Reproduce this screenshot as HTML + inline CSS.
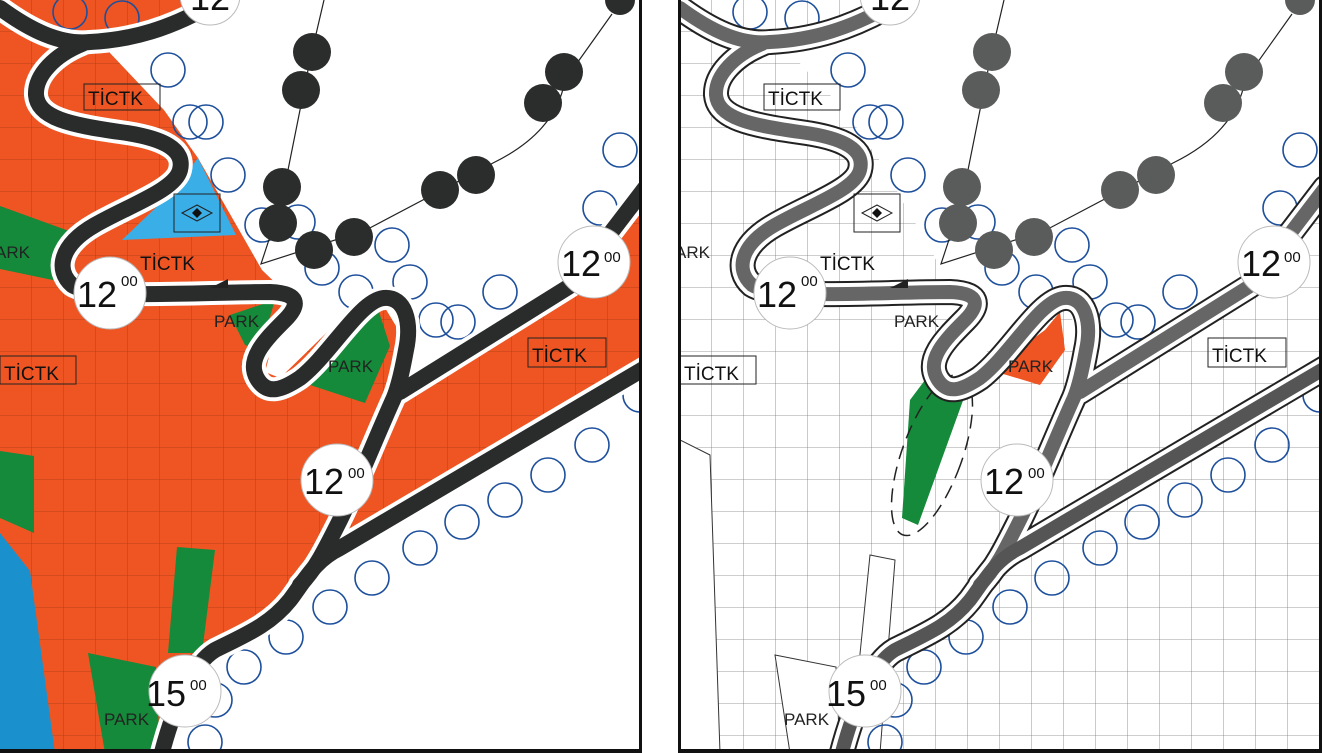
<!DOCTYPE html>
<html><head><meta charset="utf-8"><style>
html,body{margin:0;padding:0;background:#fff;}
svg{display:block;}
text{font-family:"Liberation Sans",sans-serif;}
</style></head><body>
<svg width="1322" height="753" viewBox="0 0 1322 753" xmlns="http://www.w3.org/2000/svg">
<defs>
<pattern id="gridO" width="32" height="32" patternUnits="userSpaceOnUse"><path d="M32 0V32M0 32H32" fill="none" stroke="#7a2a10" stroke-width="0.8" opacity="0.6"/></pattern>
<pattern id="gridW" width="32" height="32" patternUnits="userSpaceOnUse"><path d="M32 0V32M0 32H32" fill="none" stroke="#444" stroke-width="0.8" opacity="0.7"/></pattern>
<clipPath id="cp"><rect x="0" y="0" width="640" height="750"/></clipPath>
<path id="rTop" d="M0,8 C30,30 60,45 90,42 C130,40 170,30 220,0"/>
<path id="rWind" d="M82,44 C55,55 35,75 36,95 C38,118 70,125 120,132 C165,138 185,150 180,170 C175,190 130,205 95,225 C60,245 55,270 72,285 C95,300 200,292 270,292 C300,293 300,305 285,320 C265,340 245,360 258,380 C268,395 282,390 300,378 C330,355 360,300 384,298 C405,296 412,322 406,350 C402,372 398,390 392,402 C375,440 355,490 340,520 C325,550 315,570 300,585"/>
<path id="rDiag" d="M645,188 L570,286 L400,392"/>
<path id="rLow" d="M645,368 L340,548 C315,560 305,580 290,600 C270,625 245,635 215,650 C195,662 175,700 160,760"/>
<g id="blueC" fill="none" stroke-width="1.6">
<circle cx="70" cy="12" r="17"/><circle cx="122" cy="18" r="17"/><circle cx="168" cy="70" r="17"/><circle cx="190" cy="122" r="17"/><circle cx="206" cy="122" r="17"/><circle cx="228" cy="175" r="17"/><circle cx="262" cy="225" r="17"/><circle cx="298" cy="222" r="17"/><circle cx="322" cy="268" r="17"/><circle cx="392" cy="245" r="17"/><circle cx="356" cy="292" r="17"/><circle cx="410" cy="282" r="17"/><circle cx="500" cy="292" r="17"/><circle cx="436" cy="320" r="17"/><circle cx="458" cy="322" r="17"/><circle cx="620" cy="150" r="17"/><circle cx="600" cy="208" r="17"/><circle cx="640" cy="395" r="17"/><circle cx="592" cy="445" r="17"/><circle cx="548" cy="475" r="17"/><circle cx="505" cy="500" r="17"/><circle cx="462" cy="522" r="17"/><circle cx="420" cy="548" r="17"/><circle cx="372" cy="578" r="17"/><circle cx="330" cy="607" r="17"/><circle cx="286" cy="637" r="17"/><circle cx="244" cy="667" r="17"/><circle cx="215" cy="700" r="17"/><circle cx="205" cy="742" r="17"/>
</g>
<g id="dots"><path d="M324,0 L310,60 L282,200 L261,264 L366,230 L493,163 C540,140 560,110 565,80 L612,14" fill="none" stroke="#222" stroke-width="1.2"/>
<circle cx="312" cy="52" r="19"/><circle cx="301" cy="90" r="19"/><circle cx="282" cy="187" r="19"/><circle cx="278" cy="223" r="19"/><circle cx="314" cy="250" r="19"/><circle cx="354" cy="237" r="19"/><circle cx="440" cy="190" r="19"/><circle cx="476" cy="175" r="19"/><circle cx="543" cy="103" r="19"/><circle cx="564" cy="72" r="19"/><circle cx="620" cy="0" r="15"/></g>
<g id="labels">
<g fill="#fff" stroke="#bbb" stroke-width="1"><circle cx="210" cy="-5" r="30"/><circle cx="110" cy="293" r="36"/><circle cx="594" cy="262" r="36"/><circle cx="337" cy="480" r="36"/><circle cx="185" cy="691" r="36"/></g>
<g fill="#111" font-size="36"><text x="77" y="307">12</text><text x="561" y="276">12</text><text x="304" y="494">12</text><text x="146" y="706">15</text><text x="190" y="10">12</text></g>
<g fill="#111" font-size="15"><text x="121" y="286">00</text><text x="604" y="262">00</text><text x="348" y="478">00</text><text x="190" y="690">00</text></g>
<g fill="#111" font-size="19"><text x="88" y="105">TİCTK</text><text x="4" y="380">TİCTK</text><text x="532" y="362">TİCTK</text><text x="140" y="270">TİCTK</text></g>
<g fill="none" stroke="#222" stroke-width="1"><rect x="84" y="84" width="76" height="26"/><rect x="0" y="356" width="76" height="28"/><rect x="528" y="338" width="78" height="29"/><rect x="174" y="194" width="46" height="38"/></g>
<g fill="#222" font-size="17"><text x="-5" y="258">ARK</text><text x="214" y="327">PARK</text><text x="328" y="372">PARK</text><text x="104" y="725">PARK</text></g>
<path d="M182,213 L197,205 L212,213 L197,221Z" fill="none" stroke="#222"/><path d="M192,213 L197,208 L202,213 L197,218Z" fill="#111"/>
<path d="M210,288 L228,279 L228,288Z" fill="#222"/>
</g>
</defs>

<!-- LEFT PANEL -->
<g clip-path="url(#cp)">
<rect width="640" height="750" fill="#ee5522"/>
<rect width="640" height="750" fill="url(#gridO)"/>
<path d="M215,0 L640,0 L640,192 L568,288 L400,390 L396,326 L379,298 L355,305 L280,378 L265,372 L286,293 L262,270 L198,158 L164,110 L110,53 L110,45 L150,35 L200,15Z" fill="#fff"/>
<path d="M645,375 L645,753 L165,753 L215,655 L340,560Z" fill="#fff"/>
<path d="M122,240 L236,235 L198,158 L172,192Z" fill="#3aaee6"/>
<path d="M0,206 L80,235 L67,283 L0,269Z" fill="#148a3a"/>
<path d="M312,360 L379,312 L390,346 L365,403 L307,384Z" fill="#148a3a"/>
<path d="M230,315 L275,300 L260,350 L245,345Z" fill="#148a3a"/>
<path d="M0,451 L34,456 L34,533 L0,518Z" fill="#148a3a"/>
<path d="M0,533 L30,571 L55,753 L0,753Z" fill="#1a90cc"/>
<path d="M177,547 L215,550 L202,653 L168,653Z" fill="#148a3a"/>
<path d="M88,653 L156,667 L160,753 L105,753Z" fill="#148a3a"/>
<use href="#blueC" stroke="#1d4f9c"/>
<use href="#dots" fill="#2b2d2c"/>
<g fill="none" stroke-linecap="round" stroke-linejoin="round">
<use href="#rTop" stroke="#fff" stroke-width="24"/><use href="#rWind" stroke="#fff" stroke-width="24"/><use href="#rDiag" stroke="#fff" stroke-width="24"/><use href="#rLow" stroke="#fff" stroke-width="24"/>
<use href="#rTop" stroke="#2a2c2b" stroke-width="16"/><use href="#rWind" stroke="#2a2c2b" stroke-width="16"/><use href="#rDiag" stroke="#2a2c2b" stroke-width="16"/><use href="#rLow" stroke="#2a2c2b" stroke-width="16"/>
</g>
<use href="#labels"/>
</g>
<rect x="639" y="0" width="3" height="753" fill="#111"/>
<rect x="0" y="749" width="642" height="4" fill="#111"/>

<!-- RIGHT PANEL -->
<g transform="translate(680,0)">
<g clip-path="url(#cp)">
<rect width="640" height="750" fill="#fff"/>
<rect width="640" height="750" fill="url(#gridW)"/>
<path d="M215,0 L640,0 L640,192 L568,288 L400,390 L396,326 L379,298 L355,305 L280,378 L265,372 L286,293 L262,270 L198,158 L164,110 L110,53 L110,45 L150,35 L200,15Z" fill="#fff"/>
<path d="M0,440 L30,455 L40,753 L0,753Z" fill="#fff" stroke="#333"/>
<path d="M190,555 L215,560 L200,753 L170,753Z" fill="#fff" stroke="#333"/>
<path d="M95,655 L156,667 L160,753 L110,753Z" fill="#fff" stroke="#333"/>
<path d="M310,370 L365,330 L380,312 L385,350 L360,385Z" fill="#ee5522"/>
<path d="M222,518 L230,400 L245,380 L285,395 L238,525Z" fill="#148a3a"/>
<ellipse cx="252" cy="455" rx="30" ry="85" transform="rotate(20 252 455)" fill="none" stroke="#222" stroke-width="1.5" stroke-dasharray="14 8"/>
<use href="#blueC" stroke="#1d4f9c"/>
<use href="#dots" fill="#5a5c5b"/>
<g fill="none" stroke-linecap="round" stroke-linejoin="round">
<use href="#rTop" stroke="#222" stroke-width="26"/><use href="#rWind" stroke="#222" stroke-width="26"/><use href="#rDiag" stroke="#222" stroke-width="26"/><use href="#rLow" stroke="#222" stroke-width="26"/>
<use href="#rTop" stroke="#fff" stroke-width="22"/><use href="#rWind" stroke="#fff" stroke-width="22"/><use href="#rDiag" stroke="#fff" stroke-width="22"/><use href="#rLow" stroke="#fff" stroke-width="22"/>
<use href="#rTop" stroke="#666" stroke-width="14"/><use href="#rWind" stroke="#666" stroke-width="14"/><use href="#rDiag" stroke="#666" stroke-width="14"/><use href="#rLow" stroke="#555" stroke-width="14"/>
</g>
<use href="#labels"/>
</g>
<rect x="-2" y="0" width="3" height="753" fill="#111"/>
<rect x="639" y="0" width="3" height="753" fill="#111"/>
<rect x="-2" y="749" width="644" height="4" fill="#111"/>
</g>
</svg>
</body></html>
